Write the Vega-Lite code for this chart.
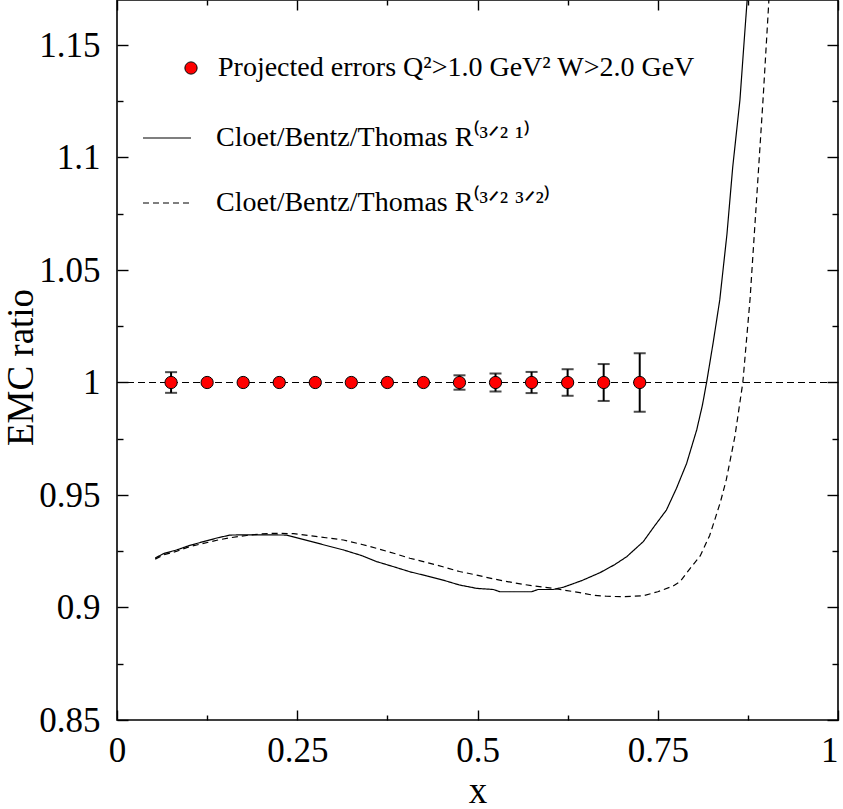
{
  "$schema": "https://vega.github.io/schema/vega-lite/v6.json",
  "width": 721,
  "height": 720,
  "autosize": {"type": "none"},
  "padding": {"left": 117, "top": 0, "right": 5, "bottom": 89},
  "background": "white",
  "config": {
    "view": {"stroke": "black", "strokeWidth": 1.6},
    "font": "Liberation Serif",
    "axis": {
      "domain": false,
      "grid": false,
      "tickColor": "black",
      "tickWidth": 1.4,
      "labelFont": "Liberation Serif",
      "labelFontSize": 35,
      "labelColor": "black",
      "labelFlush": false,
      "labelOverlap": false,
      "titleFont": "Liberation Serif",
      "titleFontSize": 37,
      "titleFontWeight": "normal",
      "titleColor": "black"
    },
    "legend": {
      "labelFont": "Liberation Serif",
      "labelFontSize": 28,
      "labelColor": "black",
      "labelLimit": 900
    }
  },
  "datasets": {
    "points": [
      {"x": 0.075, "ratio": 1.0, "lo": 0.9954, "hi": 1.0046, "series": "Projected errors Q²>1.0 GeV² W>2.0 GeV"},
      {"x": 0.125, "ratio": 1.0, "lo": null, "hi": null, "series": "Projected errors Q²>1.0 GeV² W>2.0 GeV"},
      {"x": 0.175, "ratio": 1.0, "lo": null, "hi": null, "series": "Projected errors Q²>1.0 GeV² W>2.0 GeV"},
      {"x": 0.225, "ratio": 1.0, "lo": null, "hi": null, "series": "Projected errors Q²>1.0 GeV² W>2.0 GeV"},
      {"x": 0.275, "ratio": 1.0, "lo": null, "hi": null, "series": "Projected errors Q²>1.0 GeV² W>2.0 GeV"},
      {"x": 0.325, "ratio": 1.0, "lo": null, "hi": null, "series": "Projected errors Q²>1.0 GeV² W>2.0 GeV"},
      {"x": 0.375, "ratio": 1.0, "lo": null, "hi": null, "series": "Projected errors Q²>1.0 GeV² W>2.0 GeV"},
      {"x": 0.425, "ratio": 1.0, "lo": null, "hi": null, "series": "Projected errors Q²>1.0 GeV² W>2.0 GeV"},
      {"x": 0.475, "ratio": 1.0, "lo": 0.9968, "hi": 1.0032, "series": "Projected errors Q²>1.0 GeV² W>2.0 GeV"},
      {"x": 0.525, "ratio": 1.0, "lo": 0.996, "hi": 1.004, "series": "Projected errors Q²>1.0 GeV² W>2.0 GeV"},
      {"x": 0.575, "ratio": 1.0, "lo": 0.9953, "hi": 1.0047, "series": "Projected errors Q²>1.0 GeV² W>2.0 GeV"},
      {"x": 0.625, "ratio": 1.0, "lo": 0.9941, "hi": 1.0059, "series": "Projected errors Q²>1.0 GeV² W>2.0 GeV"},
      {"x": 0.675, "ratio": 1.0, "lo": 0.9918, "hi": 1.0082, "series": "Projected errors Q²>1.0 GeV² W>2.0 GeV"},
      {"x": 0.725, "ratio": 1.0, "lo": 0.987, "hi": 1.013, "series": "Projected errors Q²>1.0 GeV² W>2.0 GeV"}
    ],
    "curves": [
      {"model": "Cloet/Bentz/Thomas R⁽³ᐟ² ¹⁾", "x": 0.053, "ratio": 0.922},
      {"model": "Cloet/Bentz/Thomas R⁽³ᐟ² ¹⁾", "x": 0.065, "ratio": 0.924},
      {"model": "Cloet/Bentz/Thomas R⁽³ᐟ² ¹⁾", "x": 0.083, "ratio": 0.9256},
      {"model": "Cloet/Bentz/Thomas R⁽³ᐟ² ¹⁾", "x": 0.1, "ratio": 0.9275},
      {"model": "Cloet/Bentz/Thomas R⁽³ᐟ² ¹⁾", "x": 0.12, "ratio": 0.9293},
      {"model": "Cloet/Bentz/Thomas R⁽³ᐟ² ¹⁾", "x": 0.14, "ratio": 0.931},
      {"model": "Cloet/Bentz/Thomas R⁽³ᐟ² ¹⁾", "x": 0.157, "ratio": 0.9322},
      {"model": "Cloet/Bentz/Thomas R⁽³ᐟ² ¹⁾", "x": 0.18, "ratio": 0.9323},
      {"model": "Cloet/Bentz/Thomas R⁽³ᐟ² ¹⁾", "x": 0.2, "ratio": 0.9323},
      {"model": "Cloet/Bentz/Thomas R⁽³ᐟ² ¹⁾", "x": 0.235, "ratio": 0.9322},
      {"model": "Cloet/Bentz/Thomas R⁽³ᐟ² ¹⁾", "x": 0.258, "ratio": 0.9303},
      {"model": "Cloet/Bentz/Thomas R⁽³ᐟ² ¹⁾", "x": 0.285, "ratio": 0.928},
      {"model": "Cloet/Bentz/Thomas R⁽³ᐟ² ¹⁾", "x": 0.314, "ratio": 0.9256},
      {"model": "Cloet/Bentz/Thomas R⁽³ᐟ² ¹⁾", "x": 0.34, "ratio": 0.923},
      {"model": "Cloet/Bentz/Thomas R⁽³ᐟ² ¹⁾", "x": 0.36, "ratio": 0.9204},
      {"model": "Cloet/Bentz/Thomas R⁽³ᐟ² ¹⁾", "x": 0.385, "ratio": 0.918},
      {"model": "Cloet/Bentz/Thomas R⁽³ᐟ² ¹⁾", "x": 0.406, "ratio": 0.9159},
      {"model": "Cloet/Bentz/Thomas R⁽³ᐟ² ¹⁾", "x": 0.43, "ratio": 0.914},
      {"model": "Cloet/Bentz/Thomas R⁽³ᐟ² ¹⁾", "x": 0.452, "ratio": 0.9122},
      {"model": "Cloet/Bentz/Thomas R⁽³ᐟ² ¹⁾", "x": 0.475, "ratio": 0.91},
      {"model": "Cloet/Bentz/Thomas R⁽³ᐟ² ¹⁾", "x": 0.499, "ratio": 0.9085},
      {"model": "Cloet/Bentz/Thomas R⁽³ᐟ² ¹⁾", "x": 0.522, "ratio": 0.908},
      {"model": "Cloet/Bentz/Thomas R⁽³ᐟ² ¹⁾", "x": 0.531, "ratio": 0.907},
      {"model": "Cloet/Bentz/Thomas R⁽³ᐟ² ¹⁾", "x": 0.575, "ratio": 0.907},
      {"model": "Cloet/Bentz/Thomas R⁽³ᐟ² ¹⁾", "x": 0.584, "ratio": 0.908},
      {"model": "Cloet/Bentz/Thomas R⁽³ᐟ² ¹⁾", "x": 0.605, "ratio": 0.908},
      {"model": "Cloet/Bentz/Thomas R⁽³ᐟ² ¹⁾", "x": 0.619, "ratio": 0.909},
      {"model": "Cloet/Bentz/Thomas R⁽³ᐟ² ¹⁾", "x": 0.645, "ratio": 0.912},
      {"model": "Cloet/Bentz/Thomas R⁽³ᐟ² ¹⁾", "x": 0.67, "ratio": 0.9155},
      {"model": "Cloet/Bentz/Thomas R⁽³ᐟ² ¹⁾", "x": 0.69, "ratio": 0.919},
      {"model": "Cloet/Bentz/Thomas R⁽³ᐟ² ¹⁾", "x": 0.707, "ratio": 0.9226},
      {"model": "Cloet/Bentz/Thomas R⁽³ᐟ² ¹⁾", "x": 0.73, "ratio": 0.9293},
      {"model": "Cloet/Bentz/Thomas R⁽³ᐟ² ¹⁾", "x": 0.745, "ratio": 0.936},
      {"model": "Cloet/Bentz/Thomas R⁽³ᐟ² ¹⁾", "x": 0.762, "ratio": 0.9433},
      {"model": "Cloet/Bentz/Thomas R⁽³ᐟ² ¹⁾", "x": 0.776, "ratio": 0.953},
      {"model": "Cloet/Bentz/Thomas R⁽³ᐟ² ¹⁾", "x": 0.79, "ratio": 0.964},
      {"model": "Cloet/Bentz/Thomas R⁽³ᐟ² ¹⁾", "x": 0.804, "ratio": 0.9789},
      {"model": "Cloet/Bentz/Thomas R⁽³ᐟ² ¹⁾", "x": 0.812, "ratio": 0.99},
      {"model": "Cloet/Bentz/Thomas R⁽³ᐟ² ¹⁾", "x": 0.818, "ratio": 1.0005},
      {"model": "Cloet/Bentz/Thomas R⁽³ᐟ² ¹⁾", "x": 0.827, "ratio": 1.018},
      {"model": "Cloet/Bentz/Thomas R⁽³ᐟ² ¹⁾", "x": 0.836, "ratio": 1.0367},
      {"model": "Cloet/Bentz/Thomas R⁽³ᐟ² ¹⁾", "x": 0.846, "ratio": 1.066},
      {"model": "Cloet/Bentz/Thomas R⁽³ᐟ² ¹⁾", "x": 0.854, "ratio": 1.0958},
      {"model": "Cloet/Bentz/Thomas R⁽³ᐟ² ¹⁾", "x": 0.864, "ratio": 1.1256},
      {"model": "Cloet/Bentz/Thomas R⁽³ᐟ² ¹⁾", "x": 0.869, "ratio": 1.148},
      {"model": "Cloet/Bentz/Thomas R⁽³ᐟ² ¹⁾", "x": 0.874, "ratio": 1.17},
      {"model": "Cloet/Bentz/Thomas R⁽³ᐟ² ¹⁾", "x": 0.878, "ratio": 1.19},
      {"model": "Cloet/Bentz/Thomas R⁽³ᐟ² ³ᐟ²⁾", "x": 0.053, "ratio": 0.9215},
      {"model": "Cloet/Bentz/Thomas R⁽³ᐟ² ³ᐟ²⁾", "x": 0.065, "ratio": 0.9235},
      {"model": "Cloet/Bentz/Thomas R⁽³ᐟ² ³ᐟ²⁾", "x": 0.083, "ratio": 0.925},
      {"model": "Cloet/Bentz/Thomas R⁽³ᐟ² ³ᐟ²⁾", "x": 0.1, "ratio": 0.927},
      {"model": "Cloet/Bentz/Thomas R⁽³ᐟ² ³ᐟ²⁾", "x": 0.12, "ratio": 0.9285},
      {"model": "Cloet/Bentz/Thomas R⁽³ᐟ² ³ᐟ²⁾", "x": 0.14, "ratio": 0.93},
      {"model": "Cloet/Bentz/Thomas R⁽³ᐟ² ³ᐟ²⁾", "x": 0.157, "ratio": 0.931},
      {"model": "Cloet/Bentz/Thomas R⁽³ᐟ² ³ᐟ²⁾", "x": 0.18, "ratio": 0.932},
      {"model": "Cloet/Bentz/Thomas R⁽³ᐟ² ³ᐟ²⁾", "x": 0.2, "ratio": 0.9327},
      {"model": "Cloet/Bentz/Thomas R⁽³ᐟ² ³ᐟ²⁾", "x": 0.22, "ratio": 0.933},
      {"model": "Cloet/Bentz/Thomas R⁽³ᐟ² ³ᐟ²⁾", "x": 0.245, "ratio": 0.9328},
      {"model": "Cloet/Bentz/Thomas R⁽³ᐟ² ³ᐟ²⁾", "x": 0.27, "ratio": 0.9318},
      {"model": "Cloet/Bentz/Thomas R⁽³ᐟ² ³ᐟ²⁾", "x": 0.29, "ratio": 0.931},
      {"model": "Cloet/Bentz/Thomas R⁽³ᐟ² ³ᐟ²⁾", "x": 0.314, "ratio": 0.93},
      {"model": "Cloet/Bentz/Thomas R⁽³ᐟ² ³ᐟ²⁾", "x": 0.34, "ratio": 0.928},
      {"model": "Cloet/Bentz/Thomas R⁽³ᐟ² ³ᐟ²⁾", "x": 0.36, "ratio": 0.9263},
      {"model": "Cloet/Bentz/Thomas R⁽³ᐟ² ³ᐟ²⁾", "x": 0.385, "ratio": 0.924},
      {"model": "Cloet/Bentz/Thomas R⁽³ᐟ² ³ᐟ²⁾", "x": 0.406, "ratio": 0.9219},
      {"model": "Cloet/Bentz/Thomas R⁽³ᐟ² ³ᐟ²⁾", "x": 0.43, "ratio": 0.92},
      {"model": "Cloet/Bentz/Thomas R⁽³ᐟ² ³ᐟ²⁾", "x": 0.452, "ratio": 0.9181},
      {"model": "Cloet/Bentz/Thomas R⁽³ᐟ² ³ᐟ²⁾", "x": 0.475, "ratio": 0.916},
      {"model": "Cloet/Bentz/Thomas R⁽³ᐟ² ³ᐟ²⁾", "x": 0.499, "ratio": 0.9144},
      {"model": "Cloet/Bentz/Thomas R⁽³ᐟ² ³ᐟ²⁾", "x": 0.522, "ratio": 0.9127},
      {"model": "Cloet/Bentz/Thomas R⁽³ᐟ² ³ᐟ²⁾", "x": 0.55, "ratio": 0.911},
      {"model": "Cloet/Bentz/Thomas R⁽³ᐟ² ³ᐟ²⁾", "x": 0.575, "ratio": 0.9097},
      {"model": "Cloet/Bentz/Thomas R⁽³ᐟ² ³ᐟ²⁾", "x": 0.605, "ratio": 0.9085},
      {"model": "Cloet/Bentz/Thomas R⁽³ᐟ² ³ᐟ²⁾", "x": 0.642, "ratio": 0.9066},
      {"model": "Cloet/Bentz/Thomas R⁽³ᐟ² ³ᐟ²⁾", "x": 0.66, "ratio": 0.9055},
      {"model": "Cloet/Bentz/Thomas R⁽³ᐟ² ³ᐟ²⁾", "x": 0.679, "ratio": 0.905},
      {"model": "Cloet/Bentz/Thomas R⁽³ᐟ² ³ᐟ²⁾", "x": 0.7, "ratio": 0.9048},
      {"model": "Cloet/Bentz/Thomas R⁽³ᐟ² ³ᐟ²⁾", "x": 0.73, "ratio": 0.9052},
      {"model": "Cloet/Bentz/Thomas R⁽³ᐟ² ³ᐟ²⁾", "x": 0.75, "ratio": 0.907},
      {"model": "Cloet/Bentz/Thomas R⁽³ᐟ² ³ᐟ²⁾", "x": 0.771, "ratio": 0.9095},
      {"model": "Cloet/Bentz/Thomas R⁽³ᐟ² ³ᐟ²⁾", "x": 0.781, "ratio": 0.9115},
      {"model": "Cloet/Bentz/Thomas R⁽³ᐟ² ³ᐟ²⁾", "x": 0.795, "ratio": 0.9174},
      {"model": "Cloet/Bentz/Thomas R⁽³ᐟ² ³ᐟ²⁾", "x": 0.809, "ratio": 0.923},
      {"model": "Cloet/Bentz/Thomas R⁽³ᐟ² ³ᐟ²⁾", "x": 0.822, "ratio": 0.932},
      {"model": "Cloet/Bentz/Thomas R⁽³ᐟ² ³ᐟ²⁾", "x": 0.829, "ratio": 0.9389},
      {"model": "Cloet/Bentz/Thomas R⁽³ᐟ² ³ᐟ²⁾", "x": 0.837, "ratio": 0.947},
      {"model": "Cloet/Bentz/Thomas R⁽³ᐟ² ³ᐟ²⁾", "x": 0.845, "ratio": 0.9567},
      {"model": "Cloet/Bentz/Thomas R⁽³ᐟ² ³ᐟ²⁾", "x": 0.857, "ratio": 0.976},
      {"model": "Cloet/Bentz/Thomas R⁽³ᐟ² ³ᐟ²⁾", "x": 0.868, "ratio": 1.0},
      {"model": "Cloet/Bentz/Thomas R⁽³ᐟ² ³ᐟ²⁾", "x": 0.878, "ratio": 1.037},
      {"model": "Cloet/Bentz/Thomas R⁽³ᐟ² ³ᐟ²⁾", "x": 0.887, "ratio": 1.081},
      {"model": "Cloet/Bentz/Thomas R⁽³ᐟ² ³ᐟ²⁾", "x": 0.896, "ratio": 1.1256},
      {"model": "Cloet/Bentz/Thomas R⁽³ᐟ² ³ᐟ²⁾", "x": 0.904, "ratio": 1.169},
      {"model": "Cloet/Bentz/Thomas R⁽³ᐟ² ³ᐟ²⁾", "x": 0.906, "ratio": 1.19}
    ]
  },
  "layer": [
    {
      "data": {"values": [{"reference": 1.0}]},
      "mark": {"type": "rule", "color": "black", "strokeWidth": 1.2, "strokeDash": [7, 4]},
      "encoding": {
        "y": {"field": "reference", "type": "quantitative", "scale": {"domain": [0.85, 1.17], "nice": false, "zero": false}, "axis": null}
      }
    },
    {
      "data": {"name": "curves"},
      "mark": {"type": "line", "color": "black", "strokeWidth": 1.2, "clip": true},
      "encoding": {
        "x": {
          "field": "x", "type": "quantitative",
          "scale": {"domain": [0, 1], "nice": false, "zero": false},
          "axis": {
            "orient": "bottom",
            "values": [0, 0.125, 0.25, 0.375, 0.5, 0.625, 0.75, 0.875, 1],
            "labelExpr": "abs(datum.value*4 - round(datum.value*4)) < 0.000001 ? format(datum.value, '~g') : ''",
            "tickSize": {"condition": {"test": "abs(datum.value*4 - round(datum.value*4)) < 0.000001", "value": -10}, "value": -5},
            "labelAlign": {"condition": {"test": "datum.value == 1", "value": "right"}, "value": "center"},
            "labelPadding": 23,
            "title": "x",
            "titleY": 82,
            "titleBaseline": "alphabetic"
          }
        },
        "y": {
          "field": "ratio", "type": "quantitative",
          "scale": {"domain": [0.85, 1.17], "nice": false, "zero": false},
          "axis": {
            "orient": "left",
            "values": [0.85, 0.875, 0.9, 0.925, 0.95, 0.975, 1, 1.025, 1.05, 1.075, 1.1, 1.125, 1.15],
            "labelExpr": "abs(datum.value*20 - round(datum.value*20)) < 0.000001 ? format(datum.value, '~g') : ''",
            "tickSize": {"condition": {"test": "abs(datum.value*20 - round(datum.value*20)) < 0.000001", "value": -11}, "value": -6},
            "labelPadding": 28,
            "title": "EMC ratio",
            "titleAngle": 270,
            "titleX": -85,
            "titleY": 367,
            "titleAlign": "center",
            "titleBaseline": "alphabetic"
          }
        },
        "strokeDash": {
          "field": "model", "type": "nominal",
          "scale": {"domain": ["Cloet/Bentz/Thomas R⁽³ᐟ² ¹⁾", "Cloet/Bentz/Thomas R⁽³ᐟ² ³ᐟ²⁾"], "range": [[1, 0], [6, 4]]},
          "legend": {
            "title": null,
            "orient": "none",
            "legendX": 25,
            "legendY": 113,
            "padding": 0,
            "symbolType": "stroke",
            "symbolSize": 2304,
            "symbolStrokeColor": "black",
            "symbolStrokeWidth": 1.2,
            "labelOffset": 24,
            "rowPadding": 26
          }
        }
      }
    },
    {
      "data": {"name": "points"},
      "mark": {"type": "rule", "color": "black", "strokeWidth": 2},
      "encoding": {
        "x": {
          "field": "x", "type": "quantitative",
          "axis": {
            "orient": "top",
            "values": [0, 0.125, 0.25, 0.375, 0.5, 0.625, 0.75, 0.875, 1],
            "labels": false,
            "title": null,
            "tickSize": {"condition": {"test": "abs(datum.value*4 - round(datum.value*4)) < 0.000001", "value": -10}, "value": -5}
          }
        },
        "y": {
          "field": "lo", "type": "quantitative",
          "axis": {
            "orient": "right",
            "values": [0.85, 0.875, 0.9, 0.925, 0.95, 0.975, 1, 1.025, 1.05, 1.075, 1.1, 1.125, 1.15],
            "labels": false,
            "title": null,
            "tickSize": {"condition": {"test": "abs(datum.value*20 - round(datum.value*20)) < 0.000001", "value": -11}, "value": -6}
          }
        },
        "y2": {"field": "hi"}
      }
    },
    {
      "data": {"name": "points"},
      "mark": {"type": "tick", "orient": "horizontal", "color": "black", "size": 12, "thickness": 2},
      "encoding": {
        "x": {"field": "x", "type": "quantitative", "axis": null},
        "y": {"field": "lo", "type": "quantitative", "axis": null}
      }
    },
    {
      "data": {"name": "points"},
      "mark": {"type": "tick", "orient": "horizontal", "color": "black", "size": 12, "thickness": 2},
      "encoding": {
        "x": {"field": "x", "type": "quantitative", "axis": null},
        "y": {"field": "hi", "type": "quantitative", "axis": null}
      }
    },
    {
      "data": {"name": "points"},
      "mark": {"type": "point", "shape": "circle", "filled": true, "size": 150, "stroke": "black", "strokeWidth": 1, "opacity": 1},
      "encoding": {
        "x": {"field": "x", "type": "quantitative", "axis": null},
        "y": {"field": "ratio", "type": "quantitative", "axis": null},
        "fill": {
          "field": "series", "type": "nominal",
          "scale": {"range": ["#ff0000"]},
          "legend": {
            "title": null,
            "orient": "none",
            "legendX": 60,
            "legendY": 54,
            "padding": 0,
            "symbolType": "circle",
            "symbolSize": 150,
            "symbolStrokeColor": "black",
            "symbolStrokeWidth": 1,
            "symbolOpacity": 1,
            "labelOffset": 13
          }
        }
      }
    }
  ],
  "resolve": {"axis": {"x": "independent", "y": "independent"}}
}
